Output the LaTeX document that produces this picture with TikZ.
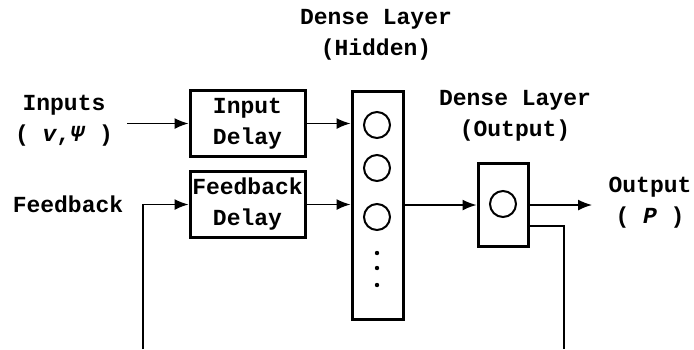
\documentclass[tikz,border=0pt]{standalone}
\usepackage{fontspec}
\setmainfont{Liberation Mono}
\usetikzlibrary{arrows.meta, positioning}

\begin{document}
\begin{tikzpicture}[
    x=0.5pt, y=-0.5pt,
    txt/.style={align=center, font=\fontsize{11.5}{15.5}\selectfont\bfseries},
    delay/.style={draw, line width=1.5pt, minimum width=57.5pt, minimum height=33pt, inner sep=1pt, txt},
    layer/.style={draw, line width=1.5pt, inner sep=0pt},
    neuron/.style={circle, draw, line width=1pt, minimum size=13pt, inner sep=0pt},
    arrow/.style={-{Latex[length=7pt, width=5.5pt]}, line width=0.75pt},
    wire/.style={line width=0.75pt}
]
\useasboundingbox (0,0) rectangle (694,349);
% inputs and delays
\node[txt] (inputs) at (64,121) {Inputs\\( \textit{v},\textit{Ψ} )};
\node[txt] (fb) at (68,204) {Feedback};
\node[delay] (indelay) at (247.5,123.5) {Input\\Delay};
\node[delay] (fbdelay) at (247.5,204.5) {Feedback\\Delay};
% hidden layer
\node[layer, minimum width=25.5pt, minimum height=114pt] (hidden) at (377.5,205) {};
\node[neuron] (h1) at (377,125) {};
\node[neuron] (h2) at (377,168) {};
\node[neuron] (h3) at (377,217) {};
\foreach \y in {253,268,285}
    \fill (377,\y) circle (1.1pt);
\node[txt] (hidlabel) at (376,35) {Dense Layer\\(Hidden)};
% output layer
\node[layer, minimum width=25pt, minimum height=41.5pt] (outbox) at (503,205) {};
\node[neuron] (o1) at (503,204) {};
\node[txt] (outlabel) at (515,116) {Dense Layer\\(Output)};
\node[txt] (output) at (650,203) {Output\\( \textit{P} )};
% connections
\coordinate (instart) at (127,123.5);
\coordinate (outend) at (592,205);
\coordinate (fbtap) at (564,349);
\coordinate (fbdrop) at (143,349);
\draw[arrow] (instart) -- (indelay);
\draw[arrow] (indelay) -- (indelay.east -| hidden.west);
\draw[arrow] (fbdelay) -- (fbdelay.east -| hidden.west);
\draw[arrow] (hidden.east) -- (outbox.west);
\draw[arrow] (outbox.east) -- (outend);
\draw[wire] ([yshift=-10.5pt]outbox.east) -| (fbtap);
\draw[arrow] (fbdrop) |- (fbdelay.west);
\end{tikzpicture}
\end{document}
